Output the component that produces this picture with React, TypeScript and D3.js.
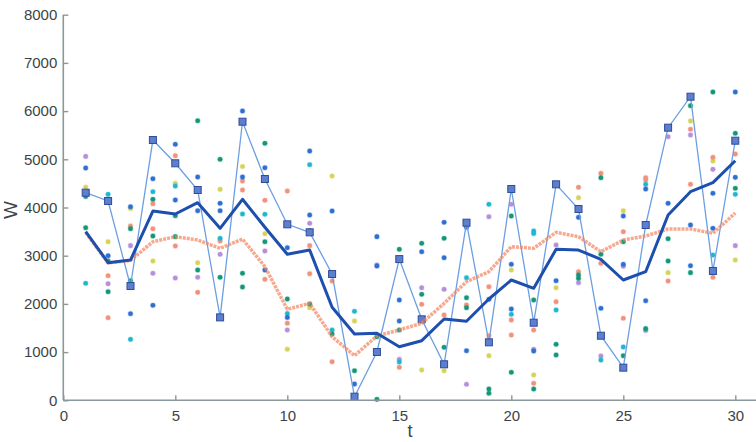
import React, { useEffect, useRef } from "react";
import * as d3 from "d3";

// time steps 1..30
const tSteps = d3.range(1, 31);

// observed values (thin line with squares)
const observed = [4307, 4135, 2371, 5400, 4917, 4363, 1720, 5780, 4591, 3651,
  3485, 2620, 75, 1002, 2930, 1680, 747, 3685, 1203, 4384,
  1610, 4481, 3969, 1340, 677, 3637, 5656, 6299, 2683, 5386];

// smoothed estimate (thick blue)
const smoothBlue = [3500, 2855, 2910, 3927, 3865, 4100, 3568, 4170, 3590, 3029,
  3118, 1929, 1375, 1390, 1112, 1237, 1687, 1639, 2102, 2496,
  2324, 3133, 3118, 2925, 2496, 2668, 3844, 4328, 4515, 4971];

// filtered estimate (orange dotted)
const smoothOrange = [3480, 2850, 2900, 3290, 3395, 3326, 3153, 3345, 2772, 1888,
  2012, 1320, 926, 1334, 1459, 1597, 2012, 2461, 2668, 3187,
  3153, 3485, 3395, 3083, 3326, 3409, 3554, 3554, 3465, 3885];

// particle samples per time step, one list per colour
const blueDots = [[4820], [3000], [4017, 1797], [4598, 1971], [5311, 4156], [4633, 3934], [4087, 3934], [6002, 4633], [4826, 2703], [3166, 1720],
  [5172, 3844], [3927], [338], [3395, 2786], [2081, 1645], [3083], [3693, 2959], [3589, 1029], [2095], [2822, 1894],
  [1023], [2481], [3796], [1909], [3824, 2822], [4384, 2066], [4087], [3637, 2793], [4295, 3568], [6396, 4626]];
const greenDots = [[4230, 3580], [2890, 2253], [3560, 2481], [4170, 3409], [3830, 3395], [5800, 2703], [5000, 2552], [2635, 2351], [5332, 3290], [2102],
  [3519, 1998], [2620, 1375], [614], [1320, 20], [3133, 1460], [3257, 2199], [3361, 1100], [2129, 1921], [234, 145], [3824, 581],
  [2081, 234], [1162, 940], [2600, 2531], [4618, 3029], [3290, 925], [1486], [3353, 2890], [6112, 2648], [6396], [5539, 4398]];
const cyanDots = [[2427], [4273], [1265], [4328], [4446], [], [3361], [3865], [3859], [1800],
  [4888], [1458], [1846], [], [795], [], [], [2544], [4066], [1784],
  [3512, 3460], [1873], [], [836], [1106], [4481], [], [], [3014], [4274]];
const salmonDots = [[], [2585, 1714], [3616, 2386], [4079, 3560], [5075, 3201], [2240], [3305], [4550, 4363], [4149, 2510], [4342, 1600],
  [3208, 2627], [2475, 801], [], [], [685], [1992], [1770], [1977], [2357, 1340], [1666, 1355],
  [1460, 353], [2046], [4419, 2668], [4709, 2842], [3498, 1701], [4618, 4571], [2475], [5622, 4481], [5041, 2552], [5110]];
const purpleDots = [[5060], [2419], [3208], [2635], [2537], [2552], [3029], [], [3097], [1460],
  [3672], [], [75], [2807], [851], [2336], [2303], [332], [3809], [4066],
  [1058], [3222], [2440], [919], [2780], [1450], [5469], [5504], [4792], [3208]];
const yellowDots = [[4420], [3290], [3980], [2890], [4502], [2855], [4377], [4850], [3456], [1060],
  [1921], [4653], [1645], [], [], [629], [614], [], [925], [2703],
  [525], [2336], [4203], [], [3934], [], [2648], [5795], [4965], [2911]];

const xTicks = [0, 5, 10, 15, 20, 25, 30];
const yTicks = [0, 1000, 2000, 3000, 4000, 5000, 6000, 7000, 8000];

const W = 756, H = 442;
const x = d3.scaleLinear().domain([0, 30]).range([63.3, 735.3]);
const y = d3.scaleLinear().domain([0, 8000]).range([400.3, 14.7]);

const dotSets = [
  { data: purpleDots, color: "#b68edc" },
  { data: yellowDots, color: "#d6d35a" },
  { data: salmonDots, color: "#f2917c" },
  { data: cyanDots, color: "#1fb6d2" },
  { data: greenDots, color: "#129877" },
  { data: blueDots, color: "#2d6fd2" },
];

export default function App() {
  const xAxisRef = useRef<SVGGElement>(null);
  const yAxisRef = useRef<SVGGElement>(null);

  useEffect(() => {
    const styleAxis = (g: any) => {
      g.select(".domain").remove();
      g.selectAll(".tick line").attr("stroke", "#8a989c").attr("stroke-width", 1.4);
      g.selectAll(".tick text")
        .attr("fill", "#3c4448")
        .attr("font-size", 15)
        .attr("font-family", "Liberation Sans, Arial, sans-serif");
    };
    d3.select(xAxisRef.current!)
      .call(d3.axisBottom(x).tickValues(xTicks).tickFormat(d3.format("d")).tickSizeInner(-5).tickSizeOuter(0).tickPadding(10) as any)
      .call(styleAxis);
    d3.select(yAxisRef.current!)
      .call(d3.axisLeft(y).tickValues(yTicks).tickFormat(d3.format("d")).tickSizeInner(-5).tickSizeOuter(0).tickPadding(6) as any)
      .call(styleAxis);
  }, []);

  const line = d3.line<number>().x((_, i) => x(tSteps[i])).y((d) => y(d));

  return (
    <svg width={W} height={H} style={{ position: "absolute", left: 0, top: 0, background: "#fff" }}>
      {/* particle dots */}
      {dotSets.map((s, si) =>
        s.data.map((vals, i) =>
          vals.map((v, j) => (
            <circle key={`${si}-${i}-${j}`} cx={x(tSteps[i])} cy={y(v)} r={2.3}
              fill={s.color} stroke={s.color} strokeOpacity={0.35} strokeWidth={1.2} />
          ))
        )
      )}
      {/* observations */}
      <path d={line(observed)!} fill="none" stroke="#6c9fe2" strokeWidth={1.3} />
      {observed.map((v, i) => (
        <rect key={`sq${i}`} x={x(tSteps[i]) - 3.5} y={y(v) - 3.5} width={7} height={7}
          fill="#5d7fcc" stroke="#2e4c9c" strokeWidth={1} />
      ))}
      {/* orange estimate */}
      <path d={line(smoothOrange)!} fill="none" stroke="#f38460" strokeOpacity={0.7}
        strokeWidth={3.5} strokeDasharray="3 1" strokeLinejoin="round" />
      {/* thick blue estimate */}
      <path d={line(smoothBlue)!} fill="none" stroke="#1d4fae" strokeWidth={3} strokeLinejoin="round" />

      {/* axes */}
      <line x1={63.3} x2={W} y1={400.3} y2={400.3} stroke="#8a989c" strokeWidth={1.6} />
      <line x1={63.3} x2={63.3} y1={14.7} y2={400.3} stroke="#8a989c" strokeWidth={1.6} />
      <g ref={xAxisRef} transform="translate(0,400.3)" />
      <g ref={yAxisRef} transform="translate(63.3,0)" />
      <text x={410} y={437} textAnchor="middle" fontSize={18} fill="#3c4448"
        fontFamily="Liberation Sans, Arial, sans-serif">t</text>
      <text transform="translate(17,210) rotate(-90)" textAnchor="middle" fontSize={19} fill="#3c4448"
        fontFamily="Liberation Sans, Arial, sans-serif">W</text>
    </svg>
  );
}
